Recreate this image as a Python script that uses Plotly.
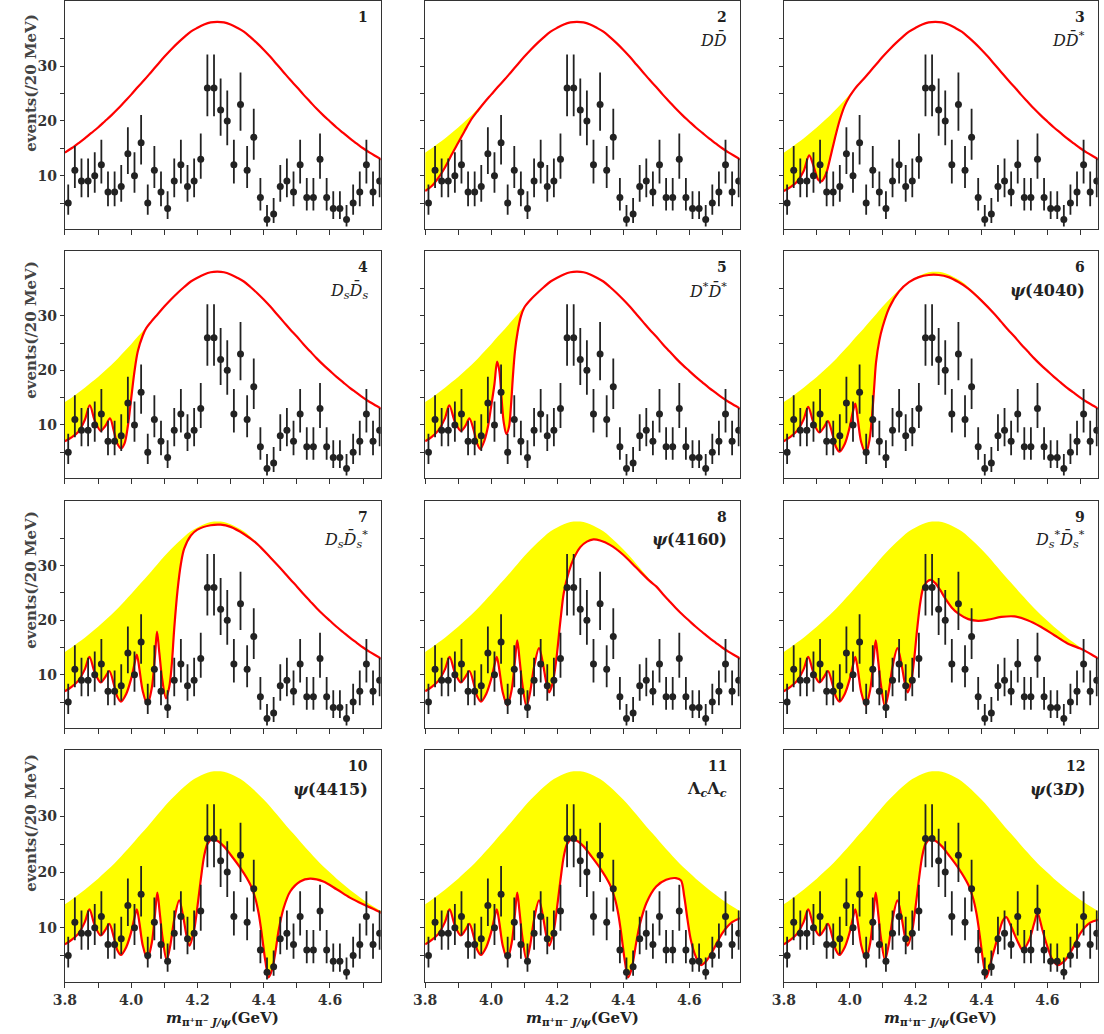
import plotly.graph_objects as go

# ---------------- data ----------------
bin_x = [3.81, 3.83, 3.85, 3.87, 3.89, 3.91, 3.93, 3.95, 3.97, 3.99,
         4.01, 4.03, 4.05, 4.07, 4.09, 4.11, 4.13, 4.15, 4.17, 4.19,
         4.21, 4.23, 4.25, 4.27, 4.29, 4.31, 4.33, 4.35, 4.37, 4.39,
         4.41, 4.43, 4.45, 4.47, 4.49, 4.51, 4.53, 4.55, 4.57, 4.59,
         4.61, 4.63, 4.65, 4.67, 4.69, 4.71, 4.73, 4.75]
counts = [5, 11, 9, 9, 10, 12, 7, 7, 8, 14,
          10, 16, 5, 11, 7, 4, 9, 12, 8, 9,
          13, 26, 26, 22, 20, 12, 23, 11, 17, 6,
          2, 3, 8, 9, 7, 12, 6, 6, 13, 6,
          4, 4, 2, 5, 7, 12, 7, 9]
# asymmetric (Poisson) error sizes read per count value
err_low = {2: 1.29, 3: 1.63, 4: 1.91, 5: 2.16, 6: 2.38, 7: 2.58, 8: 2.77, 9: 2.94,
           10: 3.11, 11: 3.26, 12: 3.42, 13: 3.56, 14: 3.70, 16: 3.97, 17: 4.10,
           20: 4.47, 22: 4.70, 23: 4.81, 26: 5.13}
err_high = {2: 2.64, 3: 2.92, 4: 3.16, 5: 3.38, 6: 3.58, 7: 3.77, 8: 3.95, 9: 4.11,
            10: 4.27, 11: 4.42, 12: 4.56, 13: 4.70, 14: 4.83, 16: 5.08, 17: 5.20,
            20: 5.54, 22: 5.76, 23: 5.86, 26: 6.14}

# envelope (upper edge of yellow band / curve of panel 1)
env_x = [3.80, 3.82, 3.84, 3.86, 3.88, 3.90, 3.92, 3.94, 3.96, 3.98,
         4.00, 4.02, 4.04, 4.06, 4.08, 4.10, 4.12, 4.14, 4.16, 4.18,
         4.20, 4.22, 4.24, 4.26, 4.28, 4.30, 4.32, 4.34, 4.36, 4.38,
         4.40, 4.42, 4.44, 4.46, 4.48, 4.50, 4.52, 4.54, 4.56, 4.58,
         4.60, 4.62, 4.64, 4.66, 4.68, 4.70, 4.72, 4.74, 4.76]
env_y = [14.2, 15.0, 15.9, 16.8, 17.8, 18.8, 19.9, 21.0, 22.2, 23.5,
         24.8, 26.2, 27.5, 28.9, 30.3, 31.7, 33.0, 34.2, 35.3, 36.3,
         37.0, 37.6, 38.0, 38.1, 38.0, 37.6, 37.0, 36.3, 35.3, 34.2,
         33.0, 31.7, 30.3, 28.9, 27.5, 26.2, 24.8, 23.5, 22.2, 21.0,
         19.9, 18.8, 17.8, 16.8, 15.9, 15.0, 14.2, 13.5, 12.8]

# red curves: knots; beyond merge point they follow the envelope
p2_x = [3.80, 3.82, 3.84, 3.86, 3.88, 3.90, 3.92, 3.94, 3.96, 3.98]
p2_y = [7.2, 8.1, 9.6, 11.5, 13.8, 16.0, 18.2, 20.3, 21.9, 23.4]
p3_x = [3.80, 3.82, 3.84, 3.86, 3.877, 3.89, 3.905, 3.915, 3.928, 3.94, 3.955, 3.97,
        3.985, 4.00, 4.01]
p3_y = [7.2, 7.9, 8.9, 10.8, 13.7, 11.8, 9.2, 9.0, 10.3, 13.0, 16.8, 20.2,
        22.8, 24.5, 25.4]
p4_x = [3.80, 3.82, 3.84, 3.86, 3.875, 3.89, 3.908, 3.922, 3.936, 3.948, 3.958, 3.97,
        3.98, 3.99, 4.00, 4.01, 4.02, 4.035, 4.045]
p4_y = [7.0, 7.7, 8.7, 10.9, 13.6, 10.8, 8.9, 9.8, 11.2, 8.8, 6.6, 5.7,
        6.6, 9.8, 14.8, 19.8, 23.5, 26.4, 27.7]
p5_x = [3.80, 3.82, 3.84, 3.86, 3.873, 3.89, 3.908, 3.922, 3.934, 3.948, 3.958, 3.967,
        3.98, 3.99, 4.00, 4.01, 4.018, 4.025, 4.032, 4.038, 4.046, 4.054, 4.06, 4.066,
        4.072, 4.08, 4.09, 4.10]
p5_y = [7.0, 7.8, 9.0, 11.2, 13.6, 10.6, 8.9, 9.8, 11.2, 8.8, 6.5, 5.6,
        7.2, 9.6, 13.4, 17.5, 21.6, 19.8, 14.5, 10.5, 8.3, 9.6, 13.5, 19.0,
        23.5, 27.0, 29.9, 31.5]
low_x = [3.80, 3.82, 3.84, 3.86, 3.874, 3.89, 3.908, 3.922, 3.934, 3.948, 3.958, 3.969, 3.985]
low_y = [7.0, 7.8, 8.9, 11.0, 13.3, 10.4, 8.6, 9.6, 10.7, 8.2, 6.0, 5.1, 6.5]
p6_x = [4.00, 4.01, 4.017, 4.025, 4.035, 4.049, 4.06, 4.07, 4.075, 4.08, 4.09, 4.10,
        4.12, 4.15, 4.18, 4.21, 4.24, 4.27, 4.30, 4.33, 4.36, 4.40]
p6_y = [9.6, 12.5, 13.9, 10.8, 6.8, 4.8, 7.2, 13.3, 17.5, 21.5, 25.5, 28.0,
        31.5, 34.5, 36.2, 37.1, 37.5, 37.5, 37.1, 36.2, 35.0, 32.8]
p7_x = [4.00, 4.01, 4.017, 4.025, 4.035, 4.049, 4.062, 4.072, 4.078, 4.085, 4.093, 4.105,
        4.115, 4.122, 4.13, 4.14, 4.15, 4.16, 4.18, 4.20, 4.24, 4.27, 4.30, 4.34, 4.38, 4.42]
p7_y = [9.3, 12.0, 13.7, 11.0, 7.0, 4.6, 7.5, 13.5, 17.9, 14.0, 9.5, 5.7,
        7.8, 11.5, 18.5, 25.5, 30.3, 33.1, 35.5, 36.6, 37.4, 37.5, 37.1, 35.8, 34.0, 31.5]
mid_x = [4.00, 4.01, 4.017, 4.025, 4.035, 4.049, 4.062, 4.072, 4.079, 4.086, 4.094, 4.107,
         4.118, 4.13, 4.145, 4.157, 4.167, 4.176]
mid_y = [9.2, 11.8, 13.3, 10.8, 6.8, 4.4, 7.2, 12.5, 16.3, 12.8, 8.5, 4.2,
         6.8, 11.5, 14.9, 12.0, 8.6, 6.8]
p8_x = [4.186, 4.196, 4.21, 4.22, 4.235, 4.25, 4.27, 4.29, 4.31, 4.33, 4.36, 4.40, 4.44, 4.48]
p8_y = [8.4, 12.1, 20.0, 25.0, 28.8, 31.3, 33.4, 34.4, 34.8, 34.6, 33.8, 32.0, 29.6, 27.2]
p9_x = [4.186, 4.195, 4.205, 4.215, 4.225, 4.245, 4.26, 4.275, 4.29, 4.31, 4.33, 4.36,
        4.39, 4.42, 4.46, 4.50, 4.54, 4.58, 4.62, 4.66, 4.70]
p9_y = [8.6, 12.5, 18.5, 23.5, 26.2, 27.4, 26.8, 25.5, 24.0, 22.3, 21.2, 20.2,
        19.9, 20.1, 20.6, 20.7, 20.0, 18.8, 17.3, 15.8, 14.8]
peak_x = [4.19, 4.20, 4.21, 4.22, 4.23, 4.245, 4.26, 4.28, 4.30, 4.33, 4.36, 4.375,
          4.385, 4.395, 4.405, 4.415]
peak_y = [9.6, 13.8, 18.6, 22.8, 25.0, 25.9, 25.6, 24.6, 23.1, 20.7, 17.7, 15.2,
          12.5, 8.5, 4.0, 1.1]
p10_x = [4.425, 4.435, 4.445, 4.46, 4.48, 4.51, 4.54, 4.58, 4.62, 4.66, 4.70, 4.73, 4.76]
p10_y = [2.4, 5.5, 9.5, 13.5, 16.5, 18.3, 18.8, 18.3, 16.9, 15.4, 14.2, 13.4, 12.5]
p11_x = [4.425, 4.44, 4.45, 4.47, 4.50, 4.53, 4.56, 4.575, 4.585, 4.595, 4.605, 4.62,
         4.635, 4.65, 4.67, 4.70, 4.73, 4.76]
p11_y = [2.5, 7.5, 10.5, 14.4, 17.4, 18.6, 18.9, 18.5, 15.6, 11.4, 7.8, 4.8,
         3.3, 3.9, 5.7, 9.0, 11.0, 11.8]
p12_x = [4.43, 4.45, 4.465, 4.475, 4.49, 4.51, 4.525, 4.545, 4.56, 4.57, 4.585, 4.60,
         4.615, 4.63, 4.65, 4.68, 4.70, 4.73, 4.76]
p12_y = [4.2, 8.4, 11.3, 11.9, 10.2, 7.5, 6.0, 7.8, 10.8, 12.6, 9.6, 6.6,
         4.3, 3.3, 3.9, 6.6, 9.0, 10.9, 11.5]

panel_numbers = ["1", "2", "3", "4", "5", "6", "7", "8", "9", "10", "11", "12"]
Db = "<i>D\u0304</i>"
panel_names = ["", "<i>D</i>" + Db, "<i>D</i>" + Db + "<sup>*</sup>",
               "<i>D</i><sub><i>s</i></sub>" + Db + "<sub><i>s</i></sub>",
               "<i>D</i><sup>*</sup>" + Db + "<sup>*</sup>",
               "<b><i>ψ</i>(4040)</b>",
               "<i>D</i><sub><i>s</i></sub>" + Db + "<sub><i>s</i></sub><sup>*</sup>",
               "<b><i>ψ</i>(4160)</b>",
               "<i>D</i><sub><i>s</i></sub><sup>*</sup>" + Db + "<sub><i>s</i></sub><sup>*</sup>",
               "<b><i>ψ</i>(4415)</b>",
               "<b>Λ<sub><i>c</i></sub>Λ<sub><i>c</i></sub></b>",
               "<b><i>ψ</i>(3<i>D</i>)</b>"]
x_major = [3.8, 4.0, 4.2, 4.4, 4.6]
x_minor = [3.9, 4.1, 4.3, 4.5, 4.7]
y_major = [10, 20, 30]
y_minor = [5, 15, 25, 35]
y_title = "events(/20 MeV)"
x_title = "<i>m</i><sub>π⁺π⁻ <i>J/ψ</i></sub>(GeV)"

# ---------------- curves per panel ----------------
def with_env(kx, ky, merge):
    if merge is None:
        return list(kx), list(ky)
    xs = list(kx) + [e for e in env_x if e >= merge - 1e-9]
    ys = list(ky) + [v for e, v in zip(env_x, env_y) if e >= merge - 1e-9]
    return xs, ys

red = {
    2: with_env(p2_x, p2_y, 4.00),
    3: with_env(p3_x, p3_y, 4.02),
    4: with_env(p4_x, p4_y, 4.06),
    5: with_env(p5_x, p5_y, 4.12),
    6: with_env(low_x + p6_x, low_y + p6_y, 4.44),
    7: with_env(low_x + p7_x, low_y + p7_y, 4.46),
    8: with_env(low_x + mid_x + p8_x, low_y + mid_y + p8_y, 4.50),
    9: with_env(low_x + mid_x + p9_x, low_y + mid_y + p9_y, 4.72),
    10: with_env(low_x + mid_x + peak_x + p10_x, low_y + mid_y + peak_y + p10_y, None),
    11: with_env(low_x + mid_x + peak_x + p11_x, low_y + mid_y + peak_y + p11_y, None),
    12: with_env(low_x + mid_x + peak_x + p12_x, low_y + mid_y + peak_y + p12_y, None),
}

# ---------------- layout geometry (pixels) ----------------
W, H = 1104, 1034
cols = [(53.5, 372.7), (417.7, 735.7), (780.3, 1097.7)]
rows = [(1.0, 229.3), (251.0, 478.3), (500.7, 728.3), (750.0, 982.3)]
ytitle_top = [12, 259, 509, 752]

SERIF = "DejaVu Serif"
RED = "#ff0000"
YEL = "#ffff00"
INK = "#222222"

fig = go.Figure()
layout = dict(width=W, height=H, margin=dict(l=0, r=0, t=0, b=0),
              paper_bgcolor="white", plot_bgcolor="white", showlegend=False)
annotations = []

err_hi = [err_high[c] for c in counts]
err_lo = [err_low[c] for c in counts]

for i in range(12):
    r, c = divmod(i, 3)
    sfx = "" if i == 0 else str(i + 1)
    xa, ya = "x" + sfx, "y" + sfx
    n = i + 1
    if n == 1:
        fig.add_trace(go.Scatter(x=env_x, y=env_y, mode="lines", xaxis=xa, yaxis=ya,
                                 line=dict(color=RED, width=2.2, shape="spline"),
                                 hoverinfo="skip"))
    else:
        fig.add_trace(go.Scatter(x=env_x, y=env_y, mode="lines", xaxis=xa, yaxis=ya,
                                 line=dict(color=YEL, width=0, shape="spline"),
                                 hoverinfo="skip"))
        rx, ry = red[n]
        fig.add_trace(go.Scatter(x=rx, y=ry, mode="lines", xaxis=xa, yaxis=ya,
                                 fill="tonexty", fillcolor=YEL,
                                 line=dict(color=RED, width=2.2, shape="spline", smoothing=0.9),
                                 hoverinfo="skip"))
    fig.add_trace(go.Scatter(x=bin_x, y=counts, mode="markers", xaxis=xa, yaxis=ya,
                             marker=dict(color=INK, size=7),
                             error_y=dict(type="data", symmetric=False, array=err_hi,
                                          arrayminus=err_lo, color=INK, thickness=1.8, width=0)))

    x0, x1 = cols[c]
    top, bot = rows[r]
    bottom_row = (r == 3)
    left_col = (c == 0)
    tickfont = dict(family=SERIF, size=14, color="#333333", weight="bold")
    layout["xaxis" + sfx] = dict(
        domain=[x0 / W, x1 / W], range=[3.8, 4.753], anchor=ya,
        showline=True, mirror=True, linecolor="#333333", linewidth=1.3,
        showgrid=False, zeroline=False,
        tickmode="array", tickvals=x_major, ticktext=[f"{v:.1f}" for v in x_major],
        showticklabels=bottom_row,
        ticks="outside", ticklen=5, tickwidth=1, tickcolor="#333333",
        minor=dict(tickmode="array", tickvals=x_minor, ticks="outside", ticklen=5,
                   tickwidth=1, tickcolor="#333333", showgrid=False),
        tickfont=tickfont,
    )
    layout["yaxis" + sfx] = dict(
        domain=[1 - bot / H, 1 - top / H], range=[0.2, 41.9], anchor=xa,
        showline=True, mirror=True, linecolor="#333333", linewidth=1.3,
        showgrid=False, zeroline=False,
        tickmode="array", tickvals=y_major, ticktext=[str(v) for v in y_major],
        showticklabels=left_col,
        ticks="outside", ticklen=4, tickwidth=1, tickcolor="#333333",
        minor=dict(tickmode="array", tickvals=y_minor, ticks="outside", ticklen=4,
                   tickwidth=1, tickcolor="#333333", showgrid=False),
        tickfont=tickfont,
    )
    annotations.append(dict(text="<b>" + panel_numbers[i] + "</b>", xref=xa + " domain", yref=ya + " domain",
                            x=1, y=1, xanchor="right", yanchor="middle", xshift=-11, yshift=-16,
                            showarrow=False, font=dict(family=SERIF, size=14, color=INK)))
    if panel_names[i]:
        annotations.append(dict(text=panel_names[i], xref=xa + " domain", yref=ya + " domain",
                                x=1, y=1, xanchor="right", yanchor="middle", xshift=-11, yshift=-39,
                                showarrow=False, font=dict(family=SERIF, size=16, color=INK)))
    if left_col:
        annotations.append(dict(text="<b>" + y_title + "</b>", xref="paper", yref="paper",
                                x=19 / W, y=1 - ytitle_top[r] / H, xanchor="center", yanchor="top",
                                textangle=-90, showarrow=False,
                                font=dict(family=SERIF, size=15, color="#444444")))
    if bottom_row:
        annotations.append(dict(text="<b>" + x_title + "</b>", xref="paper", yref="paper",
                                x=(x0 + x1) / 2 / W, y=1 - 1034 / H, xanchor="center", yanchor="bottom",
                                yshift=4, showarrow=False, font=dict(family=SERIF, size=15, color=INK)))

layout["annotations"] = annotations
fig.update_layout(**layout)
fig.write_html("out.html")
